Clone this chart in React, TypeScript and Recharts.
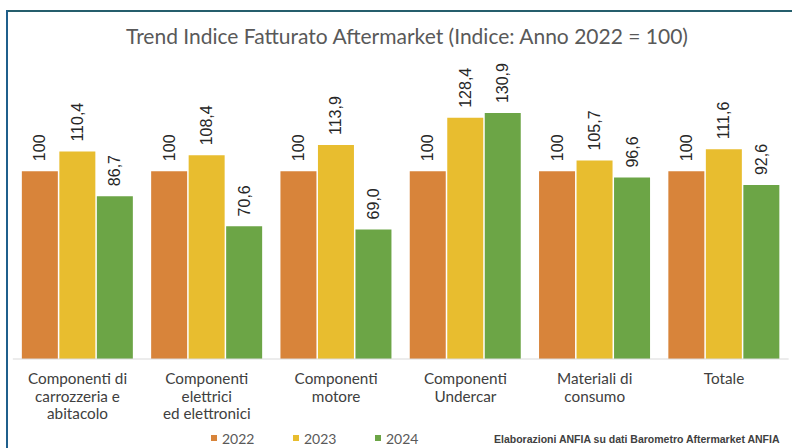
import React from "react";
import { BarChart, Bar, XAxis, YAxis, LabelList } from "recharts";

const categories = [
  "Componenti di\ncarrozzeria e\nabitacolo",
  "Componenti\nelettrici\ned elettronici",
  "Componenti\nmotore",
  "Componenti\nUndercar",
  "Materiali di\nconsumo",
  "Totale",
];
const values2022 = [100, 100, 100, 100, 100, 100];
const values2023 = [110.4, 108.4, 113.9, 128.4, 105.7, 111.6];
const values2024 = [86.7, 70.6, 69.0, 130.9, 96.6, 92.6];
const seriesNames = ["2022", "2023", "2024"];
const title = "Trend Indice Fatturato Aftermarket (Indice: Anno 2022 = 100)";
const sourceText = "Elaborazioni ANFIA su dati Barometro Aftermarket ANFIA";

const COLORS = ["#D8843A", "#E8BD2F", "#6CA546"];

const data = categories.map((c, i) => ({
  name: c,
  y2022: values2022[i],
  y2023: values2023[i],
  y2024: values2024[i],
}));

const makeLabel = (decimals: number) => (props: any) => {
  const { x, y, width, value } = props;
  const cx = Number(x) + Number(width) / 2;
  const ty = Number(y) - 10;
  const txt = decimals === 0 ? String(Math.round(value)) : Number(value).toFixed(decimals).replace(".", ",");
  return (
    <text
      x={cx}
      y={ty}
      transform={`rotate(-90, ${cx}, ${ty})`}
      textAnchor="start"
      dominantBaseline="central"
      fontFamily="'Liberation Sans', Arial, sans-serif"
      fontSize={16}
      fill="#262626"
    >
      {txt}
    </text>
  );
};

const CatTick = (props: any) => {
  const { x, y, payload } = props;
  const lines = String(payload.value).split("\n");
  return (
    <g>
      {lines.map((l: string, i: number) => (
        <text
          key={i}
          x={x}
          y={y + 19 + i * 17.5}
          textAnchor="middle"
          dominantBaseline="central"
          fontFamily="Lato, 'Open Sans', sans-serif"
          fontSize={15.3}
          fill="#404040"
        >
          {l}
        </text>
      ))}
    </g>
  );
};

const legendX = [211, 293, 375];

export default function App() {
  return (
    <div style={{ position: "absolute", left: 0, top: 0, width: 792, height: 448, background: "#ffffff", overflow: "hidden" }}>
      <div style={{ position: "absolute", left: 6, top: 10, width: 800, height: 2, background: "#255E6C" }} />
      <div style={{ position: "absolute", left: 6, top: 10, width: 2, height: 450, background: "#1F5F8C" }} />
      <div
        style={{
          position: "absolute",
          left: 0,
          width: 814,
          top: 23,
          textAlign: "center",
          fontFamily: "Lato, 'Open Sans', sans-serif",
          fontSize: 21,
          color: "#595959",
          lineHeight: "26px",
          whiteSpace: "nowrap",
        }}
      >
        {title}
      </div>
      <div style={{ position: "absolute", left: 0, top: 0 }}>
        <BarChart
          width={792}
          height={448}
          data={data}
          margin={{ top: 96, right: 3.35, left: 12.85, bottom: 0 }}
          barSize={36}
          barGap={1.5}
        >
          <XAxis
            dataKey="name"
            interval={0}
            height={89}
            tickLine={false}
            tickSize={0}
            tickMargin={0}
            axisLine={{ stroke: "#D9D9D9" }}
            tick={<CatTick />}
          />
          <YAxis hide domain={[0, 140]} />
          <Bar dataKey="y2022" fill={COLORS[0]} isAnimationActive={false}>
            <LabelList dataKey="y2022" content={makeLabel(0)} />
          </Bar>
          <Bar dataKey="y2023" fill={COLORS[1]} isAnimationActive={false}>
            <LabelList dataKey="y2023" content={makeLabel(1)} />
          </Bar>
          <Bar dataKey="y2024" fill={COLORS[2]} isAnimationActive={false}>
            <LabelList dataKey="y2024" content={makeLabel(1)} />
          </Bar>
        </BarChart>
      </div>
      {seriesNames.map((s, i) => (
        <div
          key={s}
          style={{
            position: "absolute",
            left: legendX[i],
            top: 428,
            height: 20,
            display: "flex",
            alignItems: "center",
            fontFamily: "Lato, 'Open Sans', sans-serif",
            fontSize: 14,
            color: "#595959",
          }}
        >
          <span style={{ display: "inline-block", width: 6, height: 6, background: COLORS[i], marginRight: 5 }} />
          <span>{s}</span>
        </div>
      ))}
      <div
        style={{
          position: "absolute",
          left: 494,
          top: 432,
          fontFamily: "'Liberation Sans', Arial, sans-serif",
          fontWeight: "bold",
          fontSize: 10.5,
          color: "#404040",
          whiteSpace: "nowrap",
          lineHeight: "14px",
        }}
      >
        {sourceText}
      </div>
    </div>
  );
}
